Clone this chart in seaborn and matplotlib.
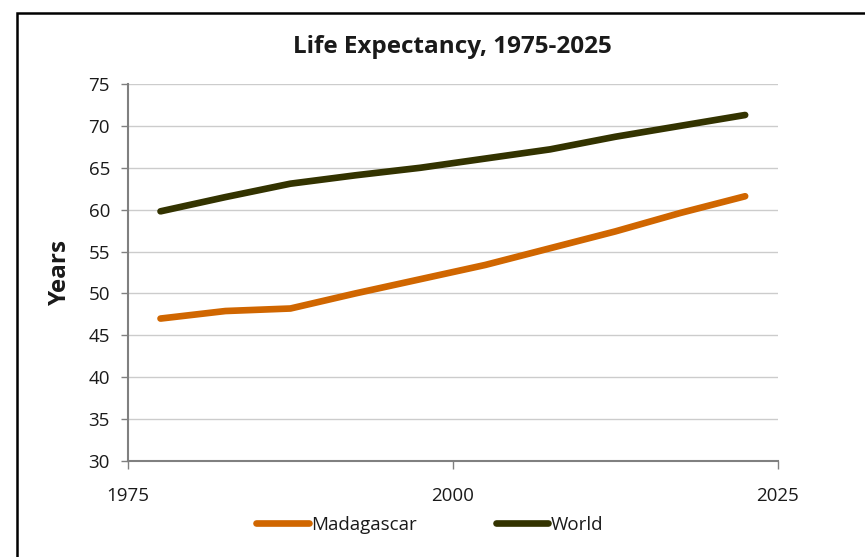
import pandas as pd
import matplotlib.pyplot as plt
import seaborn as sns
from matplotlib.patches import Rectangle

# five-year period midpoints (UN style estimates)
years = [1977.5, 1982.5, 1987.5, 1992.5, 1997.5, 2002.5, 2007.5, 2012.5, 2017.5, 2022.5]
madagascar = [47.0, 47.9, 48.2, 50.0, 51.7, 53.4, 55.4, 57.4, 59.6, 61.6]
world = [59.8, 61.5, 63.1, 64.1, 65.0, 66.1, 67.2, 68.7, 70.0, 71.3]

series_names = ["Madagascar", "World"]
colors = {"Madagascar": "#D06600", "World": "#333300"}

df = pd.DataFrame({"Year": years, "Madagascar": madagascar, "World": world})
df = df.melt(id_vars="Year", var_name="Region", value_name="Years")

sns.set_style("white")
plt.rcParams["font.family"] = ["Open Sans", "DejaVu Sans"]
txt = "#1a1a1a"

fig = plt.figure(figsize=(8.65, 5.57), dpi=100)
ax = fig.add_axes([0.148, 0.1724, 0.751, 0.6768])

sns.lineplot(data=df, x="Year", y="Years", hue="Region", hue_order=series_names,
             palette=colors, linewidth=4.8, ax=ax, legend=False,
             solid_capstyle="round", solid_joinstyle="round")

ax.set_xlim(1975, 2025)
ax.set_ylim(30, 75)
ax.set_xticks([1975, 2000, 2025])
ax.set_yticks(range(30, 80, 5))
ax.yaxis.grid(True, color="#cccccc", linewidth=1)
ax.xaxis.grid(False)
for side in ["top", "right"]:
    ax.spines[side].set_visible(False)
for side in ["left", "bottom"]:
    ax.spines[side].set_color("#808080")
    ax.spines[side].set_linewidth(1.5)
ax.tick_params(axis="y", direction="out", length=5, width=1, color="#808080",
               labelsize=13.5, labelcolor=txt, pad=8, left=True)
ax.tick_params(axis="x", direction="out", length=6, width=1, color="#808080",
               labelsize=13.5, labelcolor=txt, pad=13, bottom=True)
ax.set_xlabel("")
ax.set_ylabel("Years", fontsize=17.5, fontweight="bold", color=txt, labelpad=12)
ax.set_title("Life Expectancy, 1975-2025", fontsize=17.5, fontweight="bold",
             color=txt, pad=22)

handles = [plt.Line2D([], [], color=colors[n], linewidth=4.8, solid_capstyle="round")
           for n in series_names]
fig.legend(handles, series_names, loc="center", bbox_to_anchor=(0.497, 0.0575),
           ncol=2, frameon=False, fontsize=13.5, labelcolor=txt, handlelength=2.8,
           handletextpad=0.15, columnspacing=4.2)

# outer chart frame
fig.patches.append(Rectangle((17 / 865, -0.2), 1.5, 1.2 - 13 / 557, transform=fig.transFigure,
                             fill=False, edgecolor="black", linewidth=1.8))

fig.savefig("out.png", dpi=100)
